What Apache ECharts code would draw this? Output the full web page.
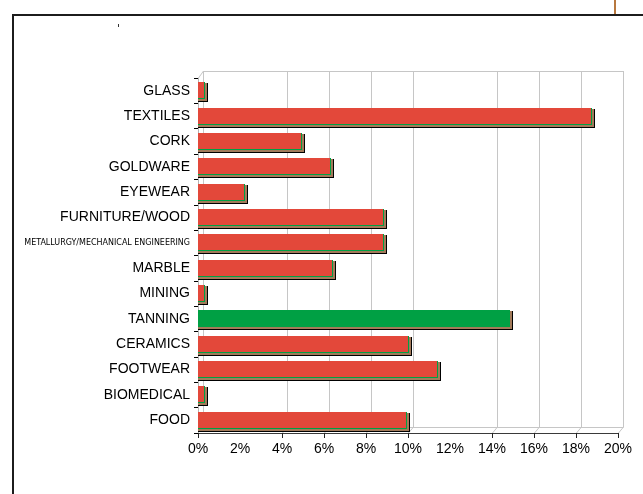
<!DOCTYPE html>
<html>
<head>
<meta charset="utf-8">
<script src="https://cdn.jsdelivr.net/npm/echarts@6/dist/echarts.min.js"></script>
<style>
  html, body { margin: 0; padding: 0; background: #ffffff; }
  #chart { width: 643px; height: 494px; }
</style>
</head>
<body>
<div id="chart"></div>
<script>
// Sector shares (% of total), listed top to bottom
const categories = [
  'GLASS', 'TEXTILES', 'CORK', 'GOLDWARE', 'EYEWEAR', 'FURNITURE/WOOD',
  'METALLURGY/MECHANICAL ENGINEERING', 'MARBLE', 'MINING', 'TANNING',
  'CERAMICS', 'FOOTWEAR', 'BIOMEDICAL', 'FOOD'
];
const shares = [0.3, 18.7, 4.9, 6.3, 2.2, 8.8, 8.8, 6.4, 0.3, 14.8, 10.0, 11.4, 0.3, 9.9];
const highlighted = ['TANNING'];

// Value axis setup and the ticks / wall gridlines that are drawn
const axisMin = 0, axisMax = 20, axisStep = 2;
const tickValues = [0, 4, 6, 8, 10, 14, 16, 18, 20];
const wallLineValues = [4, 6, 8, 10, 14, 16, 18, 20];

const RED = '#e3483a';
const GREEN = '#00a044';
const BROWN = '#a27a5a';
const WALL = '#c6c6c6';
const DX = 5, DY = -6;           // depth of the pseudo-3D box

// Long label gets a narrow face so it fits the label column
const narrowFamily = '"Liberation Sans Narrow", "Arial Narrow", "DejaVu Sans Condensed", "Liberation Sans", Arial, sans-serif';
const longLabelWidth = 166;
const measureCtx = document.createElement('canvas').getContext('2d');
measureCtx.font = '10px ' + narrowFamily;
const longLabel = categories.reduce((a, b) => (b.length > a.length ? b : a));
const narrowSize = Math.min(12, 10 * longLabelWidth / measureCtx.measureText(longLabel).width);

function seg(x1, y1, x2, y2, color, width) {
  return {
    type: 'line',
    shape: { x1: x1, y1: y1, x2: x2, y2: y2 },
    style: { stroke: color, lineWidth: width || 1 }
  };
}

function renderWalls(params, api) {
  const cs = params.coordSys;
  const top = cs.y, bottom = cs.y + cs.height;
  const backTop = top + DY - 1;
  const backBottom = bottom + DY;
  const x0 = Math.round(api.coord([axisMin, 0])[0]) + 0.5;
  const x1 = Math.round(api.coord([axisMax, 0])[0]) + 0.5;
  const children = [];
  // left wall and back wall frame
  children.push(seg(x0 + DX, backTop, x0 + DX, backBottom, WALL));
  children.push(seg(x0, top, x0 + DX, backTop, WALL));
  children.push(seg(x0 + DX, backTop + 0.5, x1 + DX, backTop + 0.5, WALL));
  children.push(seg(x0 + DX, backBottom + 0.5, x1 + DX, backBottom + 0.5, WALL));
  // gridlines running up the back wall, joined to the floor edge
  wallLineValues.forEach(function (v) {
    const x = Math.round(api.coord([v, 0])[0]) + 0.5;
    children.push({
      type: 'polyline',
      shape: { points: [[x, bottom], [x + DX, backBottom], [x + DX, backTop]] },
      style: { stroke: WALL, lineWidth: 1, fill: null }
    });
  });
  // axis ticks
  tickValues.forEach(function (v) {
    const x = Math.round(api.coord([v, 0])[0]) + 0.5;
    children.push(seg(x, bottom, x, bottom + 5, '#222'));
  });
  return { type: 'group', children: children };
}

function renderBar(params, api) {
  const v = api.value(0);
  const idx = api.value(1);
  const start = api.coord([axisMin, idx]);
  const end = api.coord([v, idx]);
  const band = api.size([0, 1])[1];
  const h = Math.round(band * 0.64);
  const x = Math.round(start[0]);
  const y = Math.round(start[1] - h / 2 - 0.5);
  const w = Math.max(1, Math.round(end[0] - start[0]));
  const face = highlighted.indexOf(categories[idx]) >= 0 ? GREEN : RED;
  return {
    type: 'group',
    children: [
      { type: 'rect', shape: { x: x, y: y + 1, width: w + 4, height: h + 3 }, style: { fill: '#000' } },
      { type: 'rect', shape: { x: x, y: y + 1, width: w + 3, height: h + 2 }, style: { fill: BROWN } },
      { type: 'rect', shape: { x: x, y: y, width: w + 1, height: h + 1 }, style: { fill: GREEN } },
      { type: 'rect', shape: { x: x, y: y, width: w, height: h }, style: { fill: face } }
    ]
  };
}

const chart = echarts.init(document.getElementById('chart'), null, { renderer: 'canvas' });

chart.setOption({
  backgroundColor: '#ffffff',
  animation: false,
  textStyle: { fontFamily: '"Liberation Sans", Arial, sans-serif' },
  grid: { left: 198, top: 78, width: 420, height: 355, containLabel: false },
  xAxis: {
    type: 'value',
    min: axisMin,
    max: axisMax,
    interval: axisStep,
    axisLine: { show: true, lineStyle: { color: '#3a3a3a', width: 1 } },
    axisTick: { show: false },
    splitLine: { show: false },
    axisLabel: {
      formatter: '{value}%',
      color: '#000',
      fontSize: 14,
      margin: 9,
      fontFamily: '"Liberation Sans", Arial, sans-serif'
    }
  },
  yAxis: {
    type: 'category',
    data: categories,
    inverse: true,
    axisLine: { show: true, lineStyle: { color: '#b4b4b4', width: 1 } },
    axisTick: { show: true, length: 4, lineStyle: { color: '#000' } },
    splitLine: { show: false },
    axisLabel: {
      color: '#000',
      fontSize: 14,
      margin: 8,
      fontFamily: '"Liberation Sans", Arial, sans-serif',
      formatter: function (v) { return v === longLabel ? '{n|' + v + '}' : v; },
      rich: {
        n: { fontFamily: narrowFamily, fontSize: narrowSize, color: '#000' }
      }
    }
  },
  series: [
    {
      type: 'custom',
      name: 'walls',
      renderItem: renderWalls,
      data: [[axisMin, 0]],
      z: 1,
      silent: true
    },
    {
      type: 'custom',
      name: 'share',
      renderItem: renderBar,
      encode: { x: 0, y: 1 },
      data: shares.map(function (v, i) { return [v, i]; }),
      z: 3
    }
  ],
  graphic: [
    { type: 'rect', shape: { x: 12, y: 14, width: 2, height: 480 }, style: { fill: '#1c1c1c' }, silent: true },
    { type: 'rect', shape: { x: 12, y: 14, width: 631, height: 2 }, style: { fill: '#1c1c1c' }, silent: true },
    { type: 'rect', shape: { x: 614, y: 0, width: 2, height: 14 }, style: { fill: '#b8783f' }, silent: true },
    { type: 'rect', shape: { x: 118, y: 24, width: 1, height: 3 }, style: { fill: '#333' }, silent: true }
  ]
});
</script>
</body>
</html>
